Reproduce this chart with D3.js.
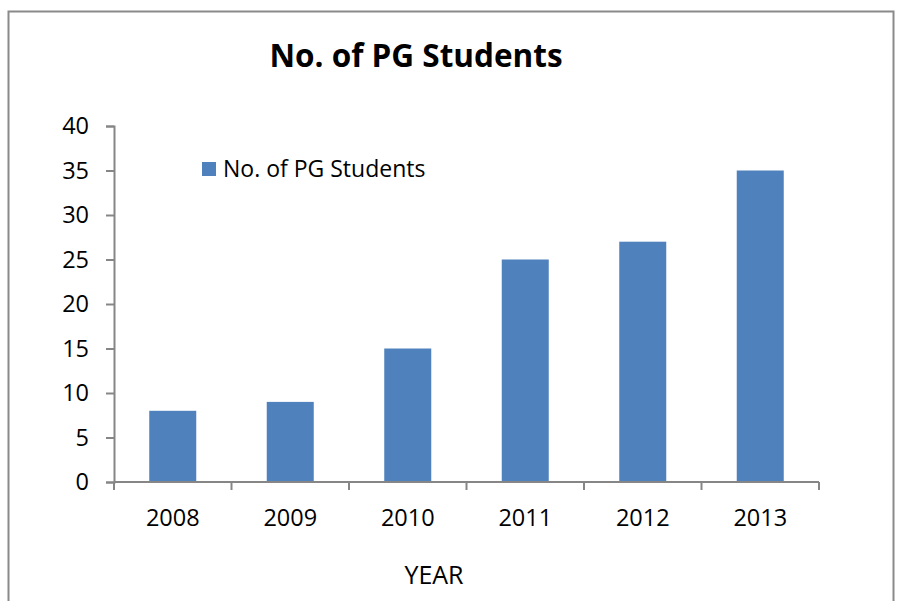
<!DOCTYPE html>
<html>
<head>
<meta charset="utf-8">
<script src="https://cdn.jsdelivr.net/npm/d3@7"></script>
<style>
  html, body { margin: 0; padding: 0; background: #fff; }
  svg { display: block; font-family: "Open Sans", "Noto Sans", sans-serif; }
</style>
</head>
<body>
<div id="chart"></div>
<script>
// data
const years = ["2008", "2009", "2010", "2011", "2012", "2013"];
const students = [8, 9, 15, 25, 27, 35];
const yTicks = [0, 5, 10, 15, 20, 25, 30, 35, 40];
const seriesName = "No. of PG Students";
const chartTitle = "No. of PG Students";
const xTitle = "YEAR";

const width = 899, height = 601;
const margin = { top: 126, right: 80, bottom: 119, left: 114 };

const svg = d3.select("#chart")
  .append("svg")
  .attr("width", width)
  .attr("height", height);

// outer frame
svg.append("rect")
  .attr("x", 8.5).attr("y", 11.5)
  .attr("width", 885).attr("height", 620)
  .attr("fill", "none")
  .attr("stroke", "#8a8a8a")
  .attr("stroke-width", 2);

const x = d3.scaleBand()
  .domain(years)
  .range([margin.left, width - margin.right])
  .paddingInner(0.6)
  .paddingOuter(0.3);

const y = d3.scaleLinear()
  .domain([0, 40])
  .range([height - margin.bottom, margin.top]);

// bars
svg.append("g")
  .selectAll("rect")
  .data(years)
  .join("rect")
  .attr("x", d => x(d))
  .attr("y", (d, i) => y(students[i]))
  .attr("width", x.bandwidth())
  .attr("height", (d, i) => y(0) - y(students[i]))
  .attr("fill", "#4f81bd");

// y axis
const yAxis = svg.append("g")
  .attr("transform", `translate(${margin.left},0)`)
  .call(d3.axisLeft(y).tickValues(yTicks).tickSize(8).tickPadding(17));

// x axis: ticks on category boundaries
const step = x.step();
const bounds = d3.range(years.length + 1).map(i => margin.left + i * step);
const xAxisG = svg.append("g")
  .attr("transform", `translate(0,${y(0)})`);
xAxisG.append("line")
  .attr("x1", margin.left).attr("x2", width - margin.right)
  .attr("stroke", "#868686").attr("stroke-width", 2);
xAxisG.selectAll(".btick")
  .data(bounds)
  .join("line")
  .attr("class", "btick")
  .attr("x1", d => d).attr("x2", d => d)
  .attr("y1", 0).attr("y2", 8)
  .attr("stroke", "#868686").attr("stroke-width", 2);
xAxisG.selectAll(".xlab")
  .data(years)
  .join("text")
  .attr("class", "xlab")
  .attr("x", d => x(d) + x.bandwidth() / 2)
  .attr("y", 44)
  .attr("text-anchor", "middle")
  .attr("font-size", 23.5)
  .attr("fill", "#000")
  .text(d => d);

yAxis.select(".domain").attr("stroke", "#868686").attr("stroke-width", 2);
yAxis.selectAll(".tick line").attr("stroke", "#868686").attr("stroke-width", 2);
yAxis.selectAll(".tick text")
  .attr("font-size", 23.5)
  .attr("fill", "#000")
  .attr("font-family", "'Open Sans', 'Noto Sans', sans-serif");

// title
svg.append("text")
  .attr("x", 416).attr("y", 67)
  .attr("text-anchor", "middle")
  .attr("font-size", 31.5)
  .attr("font-weight", "bold")
  .text(chartTitle);

// legend
svg.append("rect")
  .attr("x", 202).attr("y", 162)
  .attr("width", 14).attr("height", 14)
  .attr("fill", "#4f81bd");
svg.append("text")
  .attr("x", 223).attr("y", 177)
  .attr("font-size", 23)
  .text(seriesName);

// x axis title
svg.append("text")
  .attr("x", 434).attr("y", 584)
  .attr("text-anchor", "middle")
  .attr("font-size", 25)
  .text(xTitle);
</script>
</body>
</html>
